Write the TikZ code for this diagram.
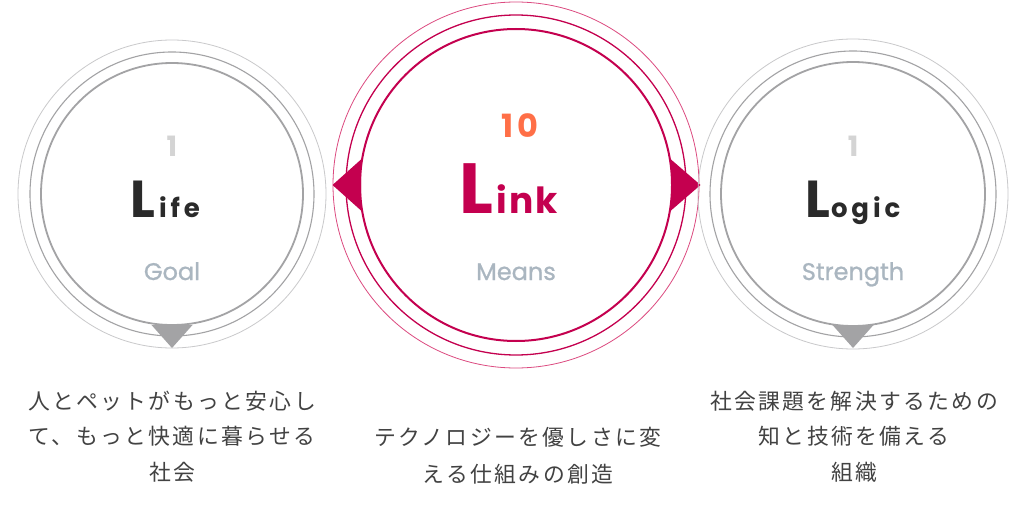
\documentclass[tikz,border=0pt]{standalone}
\usepackage{fontspec}
\setmainfont{Poppins}
\newfontfamily\pop{Poppins}
\newfontfamily\popls[LetterSpace=15]{Poppins}
\newfontfamily\poplk[LetterSpace=7]{Poppins}
\newfontfamily\popnum[LetterSpace=12]{Poppins}
\newfontfamily\popsub[FakeBold=0.9]{Poppins}
\newfontfamily\jp[LetterSpace=11]{Noto Sans CJK JP}
\definecolor{ringgray}{HTML}{A3A3A5}
\definecolor{ringlight}{HTML}{C9C9CB}
\definecolor{crim}{HTML}{C4004F}
\definecolor{crimlight}{HTML}{DC4A80}
\definecolor{numgray}{HTML}{D4D4D4}
\definecolor{numorange}{HTML}{FF6F47}
\definecolor{subgray}{HTML}{AAB6C0}
\definecolor{txtdark}{HTML}{2A2A2A}
\definecolor{jptxt}{HTML}{424242}
\begin{document}
\begin{tikzpicture}[x=1pt,y=-1pt,
  ring/.style={circle,draw,inner sep=0pt,outer sep=0pt,minimum size=#1},
  num/.style={anchor=base,inner sep=0pt,font=\pop\bfseries},
  title/.style={anchor=base west,inner sep=0pt,font=\pop\bfseries},
  sub/.style={anchor=base,inner sep=0pt,font=\popsub\fontsize{24}{24}\selectfont,text=subgray},
  jpline/.style={anchor=base,inner sep=0pt,font=\jp\fontsize{21.8}{21.8}\selectfont,text=jptxt}]
\useasboundingbox[fill=white] (0,0) rectangle (1024,505);

% ---------- Left circle (Life) ----------
\node[ring=308pt,draw=ringlight,line width=0.8pt] (lifeO) at (172,194) {};
\node[ring=284pt,draw=ringgray,line width=1.1pt] (lifeM) at (172,194) {};
\node[ring=262pt,draw=ringgray,line width=1.8pt] (lifeI) at (172,194) {};
\fill[ringgray] (151.5,325) -- (192.5,325) -- (172,348) -- cycle;
\node[num,font=\pop\bfseries\fontsize{28}{28}\selectfont,text=numgray] (lifeN) at (172,157) {1};
\node[title,text=txtdark] (lifeT) at (130,217) {\fontsize{52}{52}\selectfont L\hspace{4pt}\popls\bfseries\fontsize{26}{26}\selectfont ife};
\node[sub] (lifeS) at (172,280) {Goal};

% ---------- Center circle (Link) ----------
\node[ring=366pt,draw=crimlight,line width=0.8pt] (linkO) at (516,185) {};
\node[ring=340pt,draw=crim,line width=1.3pt] (linkM) at (516,185) {};
\node[ring=312pt,draw=crim,line width=2pt] (linkI) at (516,185) {};
\fill[crim] (332.5,185) -- (361,159.5) -- (361,210.5) -- cycle;
\fill[crim] (700.5,185) -- (671,159.5) -- (671,210.5) -- cycle;
\node[num,font=\popnum\bfseries\fontsize{32}{32}\selectfont,text=numorange] (linkN) at (520,138) {10};
\node[title,text=crim] (linkT) at (459,213) {\fontsize{71}{71}\selectfont L\hspace{3pt}\poplk\bfseries\fontsize{36}{36}\selectfont ink};
\node[sub] (linkS) at (516,280) {Means};

% ---------- Right circle (Logic) ----------
\node[ring=310pt,draw=ringlight,line width=0.8pt] (logO) at (853,194) {};
\node[ring=286pt,draw=ringgray,line width=1.1pt] (logM) at (853,194) {};
\node[ring=264pt,draw=ringgray,line width=1.8pt] (logI) at (853,194) {};
\fill[ringgray] (832.5,325) -- (873.5,325) -- (853,348) -- cycle;
\node[num,font=\pop\bfseries\fontsize{28}{28}\selectfont,text=numgray] (logN) at (853,157) {1};
\node[title,text=txtdark] (logT) at (805,217) {\fontsize{52}{52}\selectfont L\hspace{1pt}\popls\bfseries\fontsize{26}{26}\selectfont ogic};
\node[sub] (logS) at (853,280) {Strength};

% ---------- Descriptions ----------
\node[jpline] (lifeD1) at (172,409.5) {人とペットがもっと安心し};
\node[jpline] (lifeD2) at (172,444.5) {て、もっと快適に暮らせる};
\node[jpline] (lifeD3) at (172,480.5) {社会};

\node[jpline] (linkD1) at (518,445.5) {テクノロジーを優しさに変};
\node[jpline] (linkD2) at (518,482) {える仕組みの創造};

\node[jpline] (logD1) at (854,409.5) {社会課題を解決するための};
\node[jpline] (logD2) at (854,444.5) {知と技術を備える};
\node[jpline] (logD3) at (854,480.5) {組織};
\end{tikzpicture}
\end{document}
